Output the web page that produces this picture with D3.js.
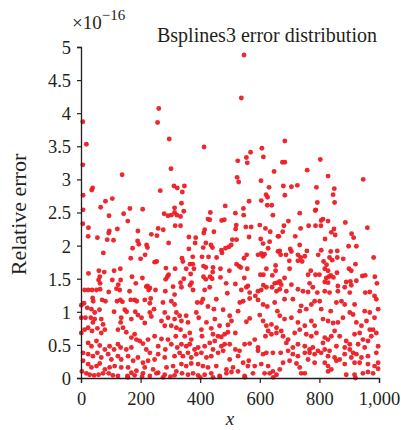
<!DOCTYPE html>
<html><head><meta charset="utf-8">
<script src="https://cdn.jsdelivr.net/npm/d3@7"></script>
<style>html,body{margin:0;padding:0;background:#fff;} svg{display:block;}</style>
</head><body><div id="chart"></div>
<script>
// Values are in units of 1e-16
const upperPoints = [[6,3.87],[18,3.53],[6,3.22],[7,2.76],[36,2.84],[39,2.87],[138,3.07],[105,2.71],[82,2.67],[66,2.58],[261,4.07],[257,3.86],[296,3.61],[302,3.16],[266,2.83],[312,2.90],[323,2.87],[347,2.90],[340,2.81],[337,2.64],[314,2.57],[413,3.49],[484,2.60],[164,2.56],[207,2.55],
[547,4.88],[538,4.23],[684,3.58],[607,3.47],[569,3.41],[555,3.33],[612,3.34],[526,3.28],[558,3.25],[676,3.26],[684,3.26],[803,3.30],[648,3.12],[759,3.14],[947,3.00],[829,3.05],[524,3.03],[529,2.96],[604,2.98],[631,2.88],[679,2.90],[706,2.89],[726,2.91],[790,2.88],[850,2.86],[846,2.77],[851,2.65],[684,2.76],[621,2.77],[626,2.73],[793,2.65],[605,2.68],[564,2.67],[625,2.61],[640,2.61],[545,2.56],[788,2.54]];

const middlePointsLeft = [[7,2.54],[94,2.45],[143,2.48],[157,2.37],[6,2.33],[25,2.27],[24,2.14],[55,2.12],[95,2.22],[93,2.19],[122,2.25],[88,2.09],[109,2.08],[191,2.22],[190,2.07],[194,2.02],[173,1.96],[220,2.01],[223,1.97],[236,2.17],[255,2.15],[259,2.26],[276,2.24],[294,2.04],[75,1.89],[167,1.81],[200,1.80],[215,1.86],[247,1.75],[254,1.76],[279,2.48],[292,2.45],[303,2.46],[314,2.50],[322,2.46],[316,2.30],[285,1.66],[294,1.56],[290,1.53],[284,1.49],[316,1.65],[132,1.65],[111,1.62],[78,1.60],[60,1.62],[63,1.53],[59,1.48],[64,1.43],[25,1.58],[105,1.48],[125,1.41],[133,1.48],[171,1.53],[206,1.51],[184,1.43],[223,1.39],[231,1.36]];

const middlePointsCentre = [[345,2.52],[334,2.44],[334,2.30],[434,2.50],[426,2.40],[432,2.39],[518,2.49],[546,2.46],[644,2.46],[472,2.38],[481,2.39],[521,2.31],[519,2.25],[553,2.28],[571,2.28],[600,2.31],[619,2.26],[635,2.21],[415,2.24],[412,2.19],[446,2.21],[362,2.13],[385,2.12],[383,2.04],[419,2.04],[508,2.09],[522,2.09],[504,2.01],[496,1.98],[564,2.13],[603,2.10],[611,2.03],[633,2.06],[628,1.96],[661,2.14],[362,1.95],[410,1.97],[436,2.01],[441,1.97],[471,1.93],[375,1.83],[406,1.83],[428,1.83],[455,1.82],[473,1.89],[485,1.96],[339,1.81],[342,1.76],[556,1.86],[547,1.81],[594,1.86],[605,1.88],[610,1.84],[616,1.87],[661,1.91],[366,1.72],[375,1.72],[379,1.65],[353,1.65],[368,1.57],[411,1.69],[419,1.67],[443,1.67],[442,1.60],[468,1.65],[498,1.62],[522,1.72],[530,1.69],[536,1.67],[558,1.65],[548,1.51],[602,1.56],[612,1.56],[622,1.65],[653,1.70],[653,1.62],[642,1.55],[345,1.50],[334,1.44],[371,1.44],[366,1.40],[411,1.53],[419,1.49],[433,1.53],[440,1.50],[468,1.52],[487,1.43],[518,1.42],[560,1.39],[612,1.40],[650,1.43],[659,1.44]];

const middlePointsRight = [[786,2.53],[734,2.49],[696,2.37],[681,2.30],[677,2.21],[664,2.14],[737,2.26],[764,2.30],[787,2.30],[806,2.38],[805,2.30],[829,2.37],[812,2.40],[887,2.35],[961,2.27],[849,2.25],[840,2.20],[853,2.16],[719,2.14],[819,2.10],[908,2.18],[915,2.12],[898,1.99],[924,1.99],[734,2.01],[758,1.92],[702,1.95],[706,1.91],[667,1.92],[670,1.86],[688,1.86],[699,1.77],[728,1.86],[737,1.82],[751,1.84],[728,1.77],[742,1.76],[806,1.93],[796,1.86],[838,1.91],[860,1.92],[860,1.82],[834,1.82],[843,1.78],[814,1.76],[824,1.71],[818,1.65],[829,1.62],[880,1.80],[982,1.82],[921,1.72],[899,1.65],[907,1.62],[700,1.65],[771,1.62],[762,1.56],[787,1.56],[800,1.56],[859,1.59],[823,1.51],[832,1.53],[838,1.55],[847,1.52],[818,1.45],[829,1.44],[683,1.51],[667,1.46],[672,1.41],[706,1.41],[767,1.43],[862,1.39],[890,1.45],[904,1.46],[907,1.40],[924,1.47],[944,1.54],[954,1.55],[986,1.53],[993,1.43]];

const lowerPointsLeft = [[12,1.33],[24,1.33],[37,1.33],[52,1.33],[64,1.34],[93,1.30],[119,1.35],[130,1.33],[163,1.31],[219,1.38],[227,1.33],[250,1.33],[283,1.31],[309,1.38],[314,1.26],[39,1.21],[41,1.16],[10,1.13],[1,1.10],[21,1.06],[35,1.04],[46,0.99],[62,1.03],[71,1.18],[82,1.16],[121,1.16],[132,1.18],[139,1.15],[167,1.18],[180,1.18],[187,1.16],[214,1.18],[234,1.20],[231,1.13],[245,1.04],[275,1.14],[303,1.16],[314,1.11],[320,0.99],[111,1.00],[147,1.03],[153,1.00],[182,1.00],[191,0.95],[203,0.91],[231,0.99],[236,0.93],[281,0.99],[292,0.91],[314,0.89],[1,0.91],[15,0.91],[33,0.91],[46,0.89],[40,0.84],[68,0.89],[74,0.81],[135,0.91],[133,0.84],[169,0.89],[214,0.83],[270,0.86],[281,0.79],[303,0.79],[320,0.76],[1,0.68],[12,0.73],[24,0.76],[37,0.71],[55,0.75],[68,0.68],[80,0.73],[124,0.73],[141,0.76],[152,0.69],[180,0.66],[169,0.61],[186,0.58],[197,0.56],[208,0.52],[225,0.58],[247,0.63],[270,0.59],[292,0.58],[318,0.63],[24,0.53],[35,0.48],[52,0.56],[63,0.49],[80,0.43],[96,0.48],[111,0.43],[124,0.51],[133,0.46],[152,0.43],[169,0.46],[219,0.43],[231,0.38],[259,0.48],[259,0.36],[283,0.43],[303,0.51],[323,0.46],[7,0.38],[24,0.36],[40,0.33],[55,0.38],[68,0.31],[91,0.36],[102,0.28],[124,0.33],[135,0.28],[158,0.33],[175,0.26],[191,0.31],[208,0.23],[225,0.26],[247,0.28],[281,0.31],[314,0.33],[7,0.26],[24,0.21],[35,0.16],[52,0.18],[63,0.22],[80,0.13],[96,0.16],[113,0.18],[135,0.16],[158,0.16],[169,0.08],[186,0.11],[214,0.16],[242,0.13],[259,0.08],[287,0.16],[309,0.18],[320,0.10],[3,0.10],[18,0.07],[29,0.05],[44,0.04],[59,0.05],[74,0.07],[93,0.07],[107,0.04],[124,0.03],[156,0.03],[180,0.04],[208,0.07],[231,0.03],[253,0.07],[281,0.05],[314,0.04],[157,0.01],[205,0.02],[275,0.01],[300,0.02]];

const lowerPointsCentre = [[337,1.37],[376,1.33],[415,1.33],[432,1.37],[491,1.28],[538,1.33],[555,1.37],[566,1.29],[594,1.31],[585,1.24],[605,1.33],[622,1.37],[641,1.37],[656,1.31],[409,1.19],[404,1.14],[390,1.14],[426,1.08],[454,1.19],[446,1.04],[477,1.03],[527,1.01],[533,1.14],[544,1.16],[566,1.20],[594,1.18],[611,1.11],[625,1.08],[650,1.14],[659,1.01],[331,0.94],[337,0.86],[353,0.94],[359,0.84],[387,0.99],[395,0.91],[421,0.84],[449,0.89],[465,0.79],[499,0.94],[505,0.86],[493,0.80],[555,0.85],[566,0.90],[600,0.95],[611,0.86],[622,0.79],[639,0.81],[656,0.76],[628,0.71],[334,0.73],[348,0.63],[365,0.68],[370,0.58],[404,0.73],[406,0.63],[437,0.75],[443,0.66],[460,0.63],[471,0.62],[482,0.66],[493,0.69],[518,0.68],[583,0.58],[594,0.46],[619,0.63],[639,0.66],[656,0.68],[337,0.51],[353,0.48],[365,0.51],[381,0.43],[393,0.46],[415,0.48],[432,0.53],[449,0.56],[443,0.43],[471,0.48],[482,0.51],[499,0.51],[518,0.43],[532,0.41],[549,0.51],[566,0.52],[331,0.38],[342,0.33],[359,0.38],[370,0.31],[387,0.36],[404,0.38],[421,0.31],[437,0.33],[460,0.38],[477,0.41],[499,0.28],[527,0.33],[544,0.23],[563,0.26],[594,0.41],[611,0.36],[622,0.38],[644,0.38],[337,0.21],[353,0.18],[370,0.22],[393,0.21],[409,0.18],[426,0.16],[454,0.18],[488,0.13],[510,0.16],[527,0.10],[560,0.18],[583,0.18],[605,0.21],[628,0.18],[644,0.10],[656,0.05],[339,0.07],[359,0.05],[376,0.07],[393,0.04],[415,0.05],[437,0.07],[465,0.03],[488,0.07],[505,0.09],[549,0.03],[577,0.07],[616,0.07],[633,0.07],[400,0.01],[443,0.01],[466,0.02],[550,0.01],[645,0.01]];

const lowerPointsRight = [[667,1.34],[689,1.31],[683,1.19],[711,1.19],[728,1.34],[745,1.31],[762,1.30],[778,1.37],[793,1.29],[818,1.31],[834,1.29],[862,1.31],[885,1.37],[902,1.29],[954,1.29],[969,1.30],[985,1.24],[991,1.19],[739,1.09],[734,1.01],[756,1.04],[773,1.11],[784,1.16],[801,1.16],[806,1.04],[838,1.01],[857,1.14],[874,1.16],[885,1.11],[902,0.99],[918,1.11],[913,0.96],[952,1.01],[969,0.99],[997,1.04],[985,0.91],[667,0.94],[683,0.89],[706,0.91],[728,0.84],[751,0.79],[773,0.86],[784,0.79],[812,0.89],[829,0.86],[846,0.83],[862,0.84],[879,0.91],[924,0.84],[941,0.79],[958,0.86],[969,0.73],[991,0.68],[672,0.71],[678,0.63],[695,0.58],[717,0.68],[734,0.73],[756,0.66],[773,0.63],[790,0.68],[818,0.61],[829,0.58],[840,0.63],[851,0.71],[868,0.63],[890,0.56],[902,0.51],[918,0.66],[935,0.68],[946,0.58],[974,0.63],[980,0.73],[689,0.53],[711,0.46],[728,0.51],[751,0.48],[767,0.43],[778,0.46],[795,0.41],[812,0.53],[818,0.43],[834,0.41],[857,0.48],[885,0.46],[902,0.43],[913,0.38],[930,0.51],[952,0.46],[963,0.56],[997,0.48],[670,0.38],[695,0.41],[711,0.36],[728,0.33],[751,0.38],[767,0.38],[784,0.36],[806,0.38],[829,0.33],[851,0.31],[868,0.28],[885,0.36],[907,0.31],[924,0.36],[941,0.31],[963,0.33],[991,0.38],[678,0.23],[700,0.26],[723,0.22],[734,0.16],[762,0.28],[784,0.23],[818,0.23],[829,0.18],[840,0.13],[857,0.26],[885,0.21],[918,0.23],[935,0.23],[963,0.21],[985,0.18],[997,0.23],[667,0.13],[739,0.07],[751,0.07],[829,0.10],[890,0.05],[918,0.05],[921,0.00],[946,0.07],[963,0.09],[980,0.07],[997,0.14]];

const xTicks = [0, 200, 400, 600, 800, 1000];
const yTicks = [0, 0.5, 1, 1.5, 2, 2.5, 3, 3.5, 4, 4.5, 5];
const titleText = "Bsplines3 error distribution";
const yLabel = "Relative error";
const xLabel = "x";

const W = 401, H = 430;
const margin = {left: 81, right: 22, top: 47, bottom: 52};
const svg = d3.select("#chart").append("svg").attr("width", W).attr("height", H);
const font = "'Liberation Serif', 'DejaVu Serif', serif";
const textColor = "#231f20";

const x = d3.scaleLinear().domain([0, 1000]).range([margin.left, W - margin.right]);
const y = d3.scaleLinear().domain([0, 5]).range([H - margin.bottom, margin.top]);

const allPoints = [].concat(upperPoints, middlePointsLeft, middlePointsCentre, middlePointsRight,
  lowerPointsLeft, lowerPointsCentre, lowerPointsRight);

svg.append("g").selectAll("circle").data(allPoints).join("circle")
  .attr("cx", d => x(d[0])).attr("cy", d => y(d[1])).attr("r", 2.45)
  .attr("fill", "#ec1c24").attr("fill-opacity", 0.95);

const xAxis = svg.append("g").attr("transform", `translate(0,${y(0)})`)
  .call(d3.axisBottom(x).tickValues(xTicks).tickSize(5).tickPadding(4).tickFormat(d3.format(",")));
const yAxis = svg.append("g").attr("transform", `translate(${x(0)},0)`)
  .call(d3.axisLeft(y).tickValues(yTicks).tickSize(4).tickPadding(6).tickFormat(d => d3.format("")(d)));
[xAxis, yAxis].forEach(a => {
  a.select(".domain").attr("stroke", "#231f20").attr("stroke-width", 1.3);
  a.selectAll(".tick line").attr("stroke", "#231f20").attr("stroke-width", 1.2);
  a.selectAll("text").attr("font-family", font).attr("font-size", 18.5).attr("fill", textColor);
});
yAxis.selectAll("text").attr("dy", "0.35em");
xAxis.selectAll("text").attr("dy", "0.95em");

svg.append("text").attr("x", 157).attr("y", 42).attr("font-family", font).attr("font-size", 20)
  .attr("fill", textColor).text(titleText);

const mult = svg.append("text").attr("x", 72).attr("y", 29).attr("font-family", font)
  .attr("font-size", 19).attr("fill", textColor);
mult.append("tspan").text("×10");
mult.append("tspan").attr("dy", -9).attr("font-size", 15).text("−16");

svg.append("text").attr("transform", `translate(26,${(y(0)+y(5))/2 + 2}) rotate(-90)`)
  .attr("text-anchor", "middle").attr("font-family", font).attr("font-size", 22)
  .attr("fill", textColor).text(yLabel);

svg.append("text").attr("x", x(500)).attr("y", 425).attr("text-anchor", "middle")
  .attr("font-family", font).attr("font-style", "italic").attr("font-size", 19)
  .attr("fill", textColor).text(xLabel);
</script></body></html>
